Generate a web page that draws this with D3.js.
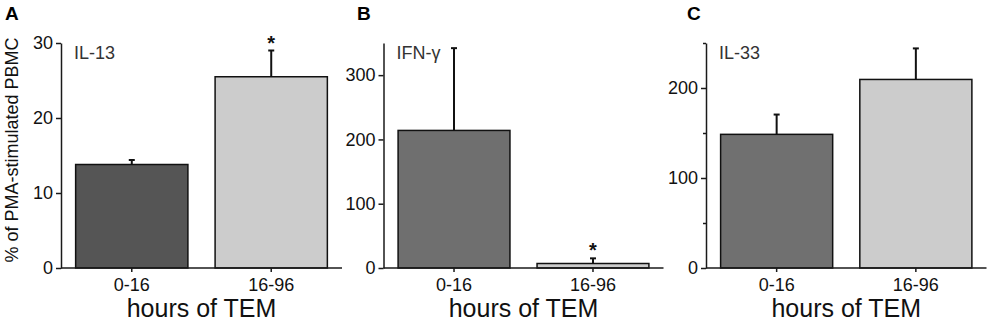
<!DOCTYPE html>
<html>
<head>
<meta charset="utf-8">
<script src="https://cdn.jsdelivr.net/npm/d3@7"></script>
<style>
  body { margin: 0; background: #fff; }
  svg { display: block; font-family: "Liberation Sans", Arial, sans-serif; }
  .axis path, .axis line { stroke: #1a1a1a; stroke-width: 1.5; }
  .axis text { font-size: 18px; fill: #111; }
</style>
</head>
<body>
<div id="chart"></div>
<script>
// data
const categories = ["0-16", "16-96"]
const il13 = [13.8, 25.5]
const il13Err = [0.6, 3.5]
const ifng = [214, 7]
const ifngErr = [128, 8]
const il33 = [148.5, 209.5]
const il33Err = [22, 34.5]
const sigA = [false, true]
const sigB = [false, true]
const sigC = [false, false]
const ticksA = [0, 10, 20, 30]
const ticksB = [0, 100, 200, 300]
const ticksC = [0, 50, 100, 150, 200, 250]
const labelsC = [0, 100, 200]

const width = 992
const height = 324
const top0 = 268   // y of zero line
const top1 = 43    // y of axis max

let svg = d3.select('div#chart').append('svg').attr('width', width).attr('height', height)

const panels = [
    { letter: "A", lx: 5, ax: 61, len: 281, max: 30, ticks: ticksA, labels: ticksA, name: "IL-13",
      vals: il13, errs: il13Err, sig: sigA, fills: ["#555555", "#cccccc"] },
    { letter: "B", lx: 357, ax: 383.5, len: 280, max: 350, ticks: ticksB, labels: ticksB, name: "IFN-\u03b3",
      vals: ifng, errs: ifngErr, sig: sigB, fills: ["#6f6f6f", "#cccccc"] },
    { letter: "C", lx: 687, ax: 706, len: 280.5, max: 250, ticks: ticksC, labels: labelsC, name: "IL-33",
      vals: il33, errs: il33Err, sig: sigC, fills: ["#707070", "#cccccc"] }
]

panels.forEach(p => {
    let g = svg.append('g').attr('class', 'panel')

    let x = d3.scaleBand().domain(categories)
        .range([p.ax, p.ax + p.len])
        .paddingInner(0.195).paddingOuter(0.105)
    let y = d3.scaleLinear().domain([0, p.max]).range([top0, top1])

    // bars
    g.selectAll('rect.bar').data(p.vals).join('rect')
        .attr('class', 'bar')
        .attr('x', (d, i) => x(categories[i]))
        .attr('y', d => y(d))
        .attr('width', x.bandwidth())
        .attr('height', d => y(0) - y(d))
        .attr('fill', (d, i) => p.fills[i])
        .attr('stroke', '#111')
        .attr('stroke-width', 1.5)

    // error bars (upper only)
    let cx = i => x(categories[i]) + x.bandwidth() / 2
    g.selectAll('line.err').data(p.vals).join('line')
        .attr('class', 'err')
        .attr('x1', (d, i) => cx(i)).attr('x2', (d, i) => cx(i))
        .attr('y1', d => y(d)).attr('y2', (d, i) => y(d + p.errs[i]))
        .attr('stroke', '#111').attr('stroke-width', 2)
    g.selectAll('line.cap').data(p.vals).join('line')
        .attr('class', 'cap')
        .attr('x1', (d, i) => cx(i) - 3).attr('x2', (d, i) => cx(i) + 3)
        .attr('y1', (d, i) => y(d + p.errs[i])).attr('y2', (d, i) => y(d + p.errs[i]))
        .attr('stroke', '#111').attr('stroke-width', 2)

    // significance stars
    p.vals.forEach((d, i) => {
        if (!p.sig[i]) return
        g.append('text')
            .attr('x', cx(i)).attr('y', y(d + p.errs[i]) - 1)
            .attr('text-anchor', 'middle')
            .style('font-size', '20px').style('font-weight', 'bold').attr('fill', '#111')
            .text('*')
    })

    // axes
    let yAxis = d3.axisLeft(y).tickValues(p.ticks).tickSize(5).tickSizeOuter(0).tickPadding(3)
        .tickFormat(d => p.labels.includes(d) ? d : "")
    let yg = g.append('g').attr('class', 'axis').attr('transform', `translate(${p.ax},0)`).call(yAxis)
    yg.selectAll('.tick').filter(d => !p.labels.includes(d)).select('line').attr('x2', -3)

    let xAxis = d3.axisBottom(x).tickSize(4).tickSizeOuter(0).tickPadding(6)
    let xg = g.append('g').attr('class', 'axis').attr('transform', `translate(0,${top0})`).call(xAxis)
    xg.select('.domain').attr('d', `M${p.ax},0H${p.ax + p.len}`)

    // labels
    g.append('text').attr('x', p.ax + p.len / 2).attr('y', 317)
        .attr('text-anchor', 'middle').style('font-size', '25px').attr('fill', '#111')
        .text('hours of TEM')
    g.append('text').attr('x', p.ax + 13).attr('y', 58.5)
        .style('font-size', '18px').attr('fill', '#333')
        .text(p.name)
    g.append('text').attr('x', p.lx).attr('y', 20)
        .style('font-size', '19px').style('font-weight', 'bold').attr('fill', '#000')
        .text(p.letter)
})

svg.append('text')
    .attr('transform', 'translate(18,150) rotate(-90)')
    .attr('text-anchor', 'middle')
    .style('font-size', '18px').attr('fill', '#111')
    .text('% of PMA-stimulated PBMC')
</script>
</body>
</html>
